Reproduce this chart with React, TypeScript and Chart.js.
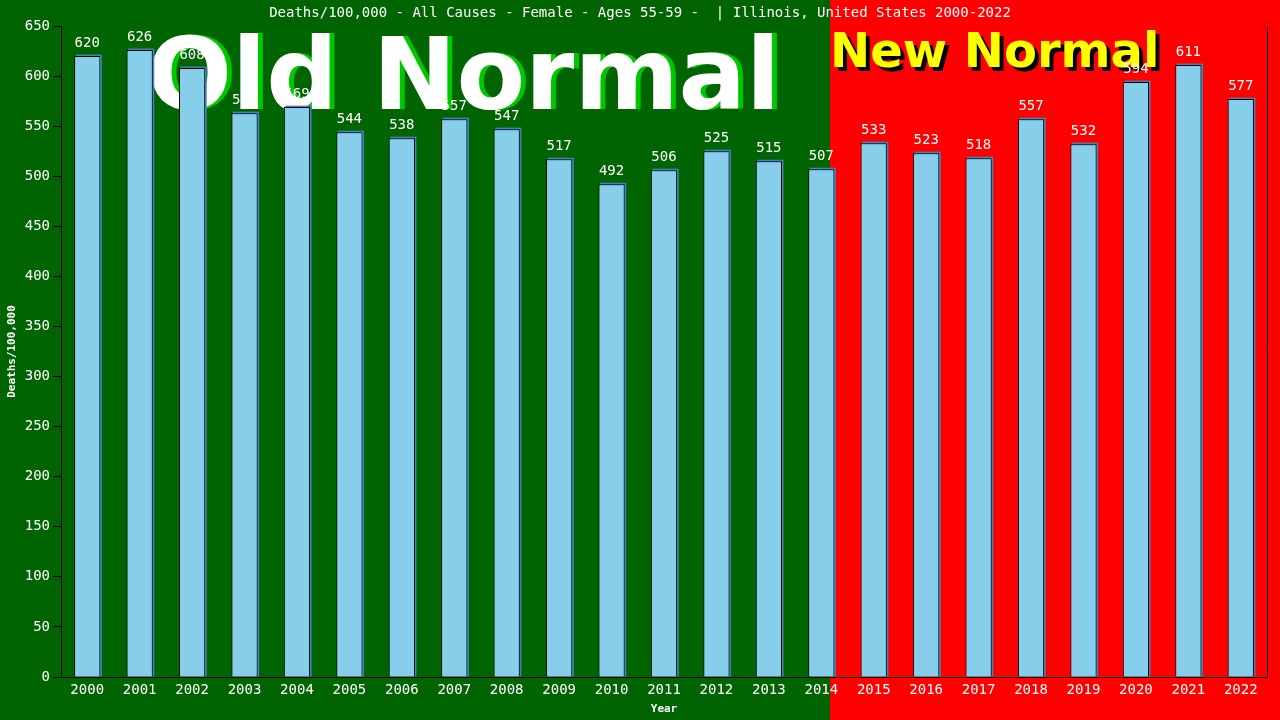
import * as React from 'react';
import { Chart, registerables } from 'chart.js';

Chart.register(...registerables);

const years = ['2000', '2001', '2002', '2003', '2004', '2005', '2006', '2007', '2008', '2009', '2010', '2011',
    '2012', '2013', '2014', '2015', '2016', '2017', '2018', '2019', '2020', '2021', '2022'];
const deathsPer100k = [620, 626, 608, 563, 569, 544, 538, 557, 547, 517, 492, 506,
    525, 515, 507, 533, 523, 518, 557, 532, 594, 611, 577];
const lastOldNormalIndex = 14;
const titleText = 'Deaths/100,000 - All Causes - Female - Ages 55-59 -  | Illinois, United States 2000-2022';

const MONO = '"DejaVu Sans Mono", monospace';

const splitX = (chart: any) => {
    const xScale = chart.scales.x;
    const cw = xScale.getPixelForValue(1) - xScale.getPixelForValue(0);
    return Math.round(xScale.getPixelForValue(lastOldNormalIndex) + cw * 0.16);
};

const decorPlugin = {
    id: 'decor',
    beforeDraw(chart: any) {
        const { ctx, width, height } = chart;
        const split = splitX(chart);
        ctx.save();
        ctx.fillStyle = '#006400';
        ctx.fillRect(0, 0, width, height);
        ctx.fillStyle = '#ff0000';
        ctx.fillRect(split, 0, width - split, height);

        // title
        ctx.fillStyle = '#ffffff';
        ctx.font = `14px ${MONO}`;
        ctx.textAlign = 'center';
        ctx.textBaseline = 'middle';
        ctx.fillText(titleText, width / 2, 13);

        // axis titles
        ctx.font = `bold 11px ${MONO}`;
        ctx.fillText('Year', (chart.chartArea.left + chart.chartArea.right) / 2, 709);
        ctx.translate(12, (chart.chartArea.top + chart.chartArea.bottom) / 2);
        ctx.rotate(-Math.PI / 2);
        ctx.fillText('Deaths/100,000', 0, 0);
        ctx.restore();
    },
    beforeDatasetsDraw(chart: any) {
        const { ctx, chartArea } = chart;
        const split = splitX(chart);
        ctx.save();
        // right border of plot
        ctx.strokeStyle = '#000000';
        ctx.lineWidth = 1;
        ctx.beginPath();
        ctx.moveTo(chartArea.right + 0.5, chartArea.top);
        ctx.lineTo(chartArea.right + 0.5, chartArea.bottom);
        ctx.stroke();

        // big labels
        ctx.textAlign = 'left';
        ctx.textBaseline = 'alphabetic';
        ctx.font = 'bold 100px "DejaVu Sans", sans-serif';
        ctx.fillStyle = '#00c800';
        ctx.fillText('Old Normal', 152, 109);
        ctx.fillStyle = '#ffffff';
        ctx.fillText('Old Normal', 147, 109);

        ctx.font = 'bold 48px "DejaVu Sans", sans-serif';
        ctx.fillStyle = '#000000';
        ctx.fillText('New Normal', split + 4, 71);
        ctx.fillStyle = '#ffff00';
        ctx.fillText('New Normal', split, 67);

        // bar shadows
        const meta = chart.getDatasetMeta(0);
        ctx.fillStyle = '#4682b4';
        meta.data.forEach((bar: any) => {
            const w = bar.width;
            ctx.fillRect(bar.x - w / 2 + 1.5, bar.y - 1.5, w, bar.base - bar.y + 1.5);
        });
        ctx.restore();
    },
    afterDatasetsDraw(chart: any) {
        const { ctx } = chart;
        const meta = chart.getDatasetMeta(0);
        ctx.save();
        ctx.fillStyle = '#ffffff';
        ctx.font = `14px ${MONO}`;
        ctx.textAlign = 'center';
        ctx.textBaseline = 'alphabetic';
        meta.data.forEach((bar: any, i: number) => {
            ctx.fillText(String(deathsPer100k[i]), bar.x, bar.y - 9);
        });
        ctx.restore();
    },
};

export default function App() {
    const canvasRef = React.useRef<HTMLCanvasElement>(null);

    React.useEffect(() => {
        document.body.style.margin = '0';
        if (!canvasRef.current) return;
        const chart = new Chart(canvasRef.current, {
            type: 'bar',
            data: {
                labels: years,
                datasets: [{
                    label: 'Deaths/100,000',
                    data: deathsPer100k,
                    backgroundColor: '#87ceeb',
                    borderColor: '#000000',
                    borderWidth: 1,
                    barPercentage: 0.5,
                    categoryPercentage: 1,
                }],
            },
            options: {
                responsive: false,
                animation: false,
                layout: { padding: { top: 26, right: 13, left: 0, bottom: 0 } },
                plugins: {
                    legend: { display: false },
                    title: { display: false },
                    tooltip: { enabled: false },
                },
                scales: {
                    x: {
                        grid: { display: false, drawTicks: false },
                        border: { display: true, color: '#000000' },
                        ticks: { color: '#ffffff', font: { family: MONO, size: 14 }, padding: 5, maxRotation: 0 },
                        afterFit: (s: any) => { s.height = 43; },
                    },
                    y: {
                        min: 0,
                        max: 650,
                        ticks: { stepSize: 50, color: '#ffffff', font: { family: MONO, size: 14 }, padding: 3 },
                        grid: { drawOnChartArea: false, drawTicks: true, tickLength: 8, color: '#000000' },
                        border: { display: true, color: '#000000' },
                        afterFit: (s: any) => { s.width = 61; },
                    },
                },
            },
            plugins: [decorPlugin],
        });
        return () => chart.destroy();
    }, []);

    return (
        <div style={{ position: 'absolute', left: 0, top: 0, width: 1280, height: 720 }}>
            <canvas ref={canvasRef} width={1280} height={720}></canvas>
        </div>
    );
}
